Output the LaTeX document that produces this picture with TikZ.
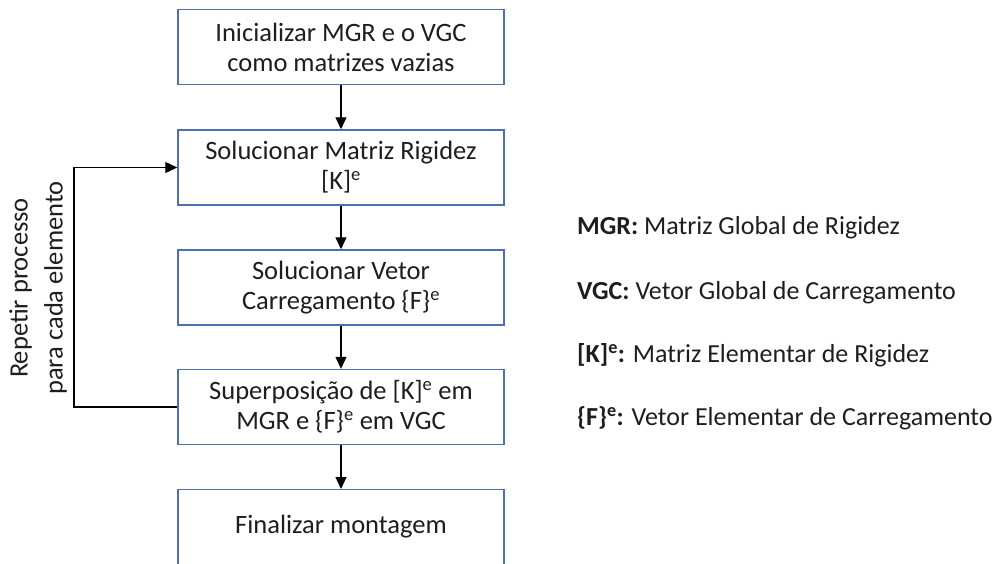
\documentclass[tikz,border=0pt]{standalone}
\usepackage{fontspec}
\setmainfont{Carlito}
\usetikzlibrary{arrows.meta}
\definecolor{boxblue}{RGB}{76,112,178}
\definecolor{txt}{RGB}{30,30,30}
\tikzset{
  stepbox/.style={draw=boxblue, line width=1.4pt, minimum width=326pt, minimum height=75pt,
    align=center, text=txt, font=\fontsize{26.5}{30}\selectfont, inner sep=0pt},
  flow/.style={line width=1.2pt, -{Triangle[length=12pt,width=11pt]}},
  legend/.style={anchor=west, text=txt, font=\fontsize{26}{30}\selectfont, inner sep=0pt}
}
\begin{document}
\begin{tikzpicture}[x=1pt,y=-1pt]
\clip (0,0) rectangle (1004,563);
\fill[white] (0,0) rectangle (1004,563);
\node[stepbox] (b1) at (341,47) {Inicializar MGR e o VGC\\como matrizes vazias};
\node[stepbox] (b2) at (341,167.5) {Solucionar Matriz Rigidez\\{[K]}\textsuperscript{e}};
\node[stepbox] (b3) at (341,287.5) {Solucionar Vetor\\Carregamento \{F\}\textsuperscript{e}};
\node[stepbox] (b4) at (341,407) {Superposição de [K]\textsuperscript{e} em\\MGR e \{F\}\textsuperscript{e} em VGC};
\node[stepbox, minimum height=100pt, anchor=north] (b5) at (341,489) {};
\node[text=txt, font=\fontsize{26.5}{30}\selectfont] (b5t) at (341,527) {Finalizar montagem};
\draw[flow] (b1) -- (b2);
\draw[flow] (b2) -- (b3);
\draw[flow] (b3) -- (b4);
\draw[flow] (b4) -- (b5);
\coordinate (lp) at (74,407);
\draw[flow] (b4.west) -- (lp) |- (b2.west);
\node[rotate=90, align=center, text=txt, font=\fontsize{26.5}{35}\selectfont] (rep) at (38,288) {Repetir processo\\para cada elemento};
\node[legend] (l1) at (577,228) {\textbf{MGR:} Matriz Global de Rigidez};
\node[legend] (l2) at (577,293) {\textbf{VGC:} Vetor Global de Carregamento};
\node[legend] (l3) at (577,355) {\textbf{[K]\textsuperscript{e}:} Matriz Elementar de Rigidez};
\node[legend] (l4) at (577,418) {\textbf{\{F\}\textsuperscript{e}:} Vetor Elementar de Carregamento};
\end{tikzpicture}
\end{document}
